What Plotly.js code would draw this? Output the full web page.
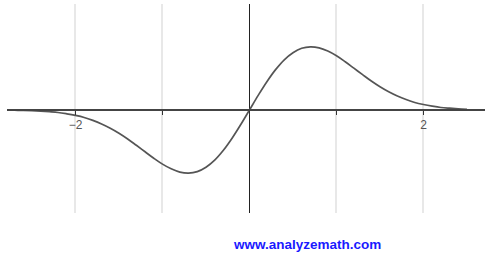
<!DOCTYPE html>
<html>
<head>
<meta charset="utf-8">
<script src="https://cdn.plot.ly/plotly-3.0.1.min.js"></script>
<style>html,body{margin:0;padding:0;background:#fff;}#chart{width:487px;height:257px;}</style>
</head>
<body>
<div id="chart"></div>
<script>
// Values
const xValues = [-2.8,-2.7,-2.6,-2.5,-2.4,-2.3,-2.2,-2.1,-2.0,-1.9,-1.8,-1.7,-1.6,-1.5,-1.4,-1.3,-1.2,-1.1,-1.0,-0.9,-0.8,-0.7,-0.6,-0.5,-0.4,-0.3,-0.2,-0.1,0,
  0.1,0.2,0.3,0.4,0.5,0.6,0.7,0.8,0.9,1.0,1.1,1.2,1.3,1.4,1.5,1.6,1.7,1.8,1.9,2.0,2.1,2.2,2.3,2.4,2.5];
const yValues = [-0.001,-0.002,-0.003,-0.005,-0.008,-0.012,-0.017,-0.026,-0.037,-0.051,-0.071,-0.095,-0.124,-0.158,-0.197,-0.240,-0.284,-0.328,-0.368,-0.400,-0.422,-0.429,-0.419,-0.389,-0.341,-0.274,-0.192,-0.099,0,
  0.099,0.192,0.274,0.341,0.389,0.419,0.429,0.422,0.400,0.368,0.328,0.284,0.240,0.197,0.158,0.124,0.095,0.071,0.051,0.037,0.026,0.017,0.012,0.008,0.005];
const tickValues = [-2,-1,0,1,2];
const tickLabels = ['\u22122','','','','2'];
const watermark = 'www.analyzemath.com';

const trace = {
  x: xValues, y: yValues, type: 'scatter', mode: 'lines',
  line: {color: '#555555', width: 1.7, shape: 'spline'},
  hoverinfo: 'skip'
};

const layout = {
  width: 487, height: 257,
  margin: {l: 7, r: 2, t: 4, b: 44},
  paper_bgcolor: '#ffffff', plot_bgcolor: '#ffffff',
  showlegend: false,
  xaxis: {
    range: [-2.787, 2.707],
    anchor: 'free', position: 0.497,
    tickvals: tickValues, ticktext: tickLabels,
    showgrid: true, gridcolor: '#e8e8e8', gridwidth: 2,
    zeroline: true, zerolinecolor: '#222222', zerolinewidth: 1.8,
    showline: true, linecolor: '#444444', linewidth: 1.6,
    ticks: 'outside', ticklen: 4, tickcolor: '#333333', tickwidth: 1.6,
    tickfont: {family: 'Liberation Sans, Arial, sans-serif', size: 12, color: '#555555'},
    fixedrange: true
  },
  yaxis: {
    range: [-0.70, 0.72],
    showgrid: false, zeroline: false, showline: false,
    showticklabels: false, ticks: '',
    fixedrange: true
  },
  annotations: [{
    text: '<b>' + watermark + '</b>',
    xref: 'paper', yref: 'paper', x: 0.628, y: -0.152,
    xanchor: 'center', yanchor: 'middle', showarrow: false,
    font: {family: 'Liberation Sans, Arial, sans-serif', size: 13.5, color: '#1a1aff'}
  }]
};

Plotly.newPlot('chart', [trace], layout, {displayModeBar: false, staticPlot: true});
</script>
</body>
</html>
